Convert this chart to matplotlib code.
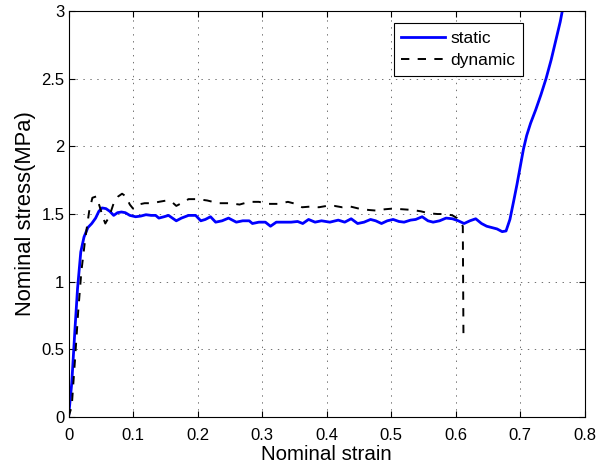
import numpy as np
import matplotlib
matplotlib.use("Agg")
import matplotlib.pyplot as plt

plt.rcParams['font.family'] = ['Liberation Sans', 'DejaVu Sans']
plt.rcParams['lines.scale_dashes'] = False

# static curve (nominal strain, nominal stress in MPa)
static_strain = [0, 0.005, 0.01, 0.014, 0.019, 0.024, 0.03, 0.036, 0.042, 0.047,
                 0.052, 0.058, 0.064, 0.07, 0.076, 0.082, 0.088, 0.095, 0.104, 0.112,
                 0.12, 0.128, 0.135, 0.14, 0.148, 0.155, 0.161, 0.167, 0.175, 0.186,
                 0.197, 0.205, 0.212, 0.22, 0.228, 0.238, 0.248, 0.26, 0.27, 0.28,
                 0.285, 0.295, 0.305, 0.313, 0.322, 0.335, 0.345, 0.355, 0.363, 0.372,
                 0.382, 0.392, 0.405, 0.418, 0.428, 0.438, 0.448, 0.458, 0.468, 0.476,
                 0.485, 0.494, 0.503, 0.512, 0.52, 0.53, 0.538, 0.548, 0.557, 0.565,
                 0.575, 0.585, 0.595, 0.604, 0.613, 0.622, 0.631, 0.64, 0.648, 0.656,
                 0.664, 0.672, 0.678, 0.684, 0.69, 0.695, 0.70, 0.705, 0.71, 0.716,
                 0.724, 0.732, 0.74, 0.748, 0.755, 0.762, 0.766]
static_stress = [0, 0.25, 0.65, 0.95, 1.22, 1.33, 1.40, 1.43, 1.47, 1.52,
                 1.545, 1.54, 1.52, 1.49, 1.51, 1.515, 1.51, 1.49, 1.48, 1.485,
                 1.495, 1.49, 1.49, 1.47, 1.48, 1.49, 1.47, 1.45, 1.47, 1.49,
                 1.49, 1.45, 1.46, 1.48, 1.44, 1.45, 1.47, 1.44, 1.45, 1.45,
                 1.43, 1.44, 1.44, 1.41, 1.44, 1.44, 1.44, 1.445, 1.43, 1.46,
                 1.44, 1.45, 1.44, 1.455, 1.44, 1.465, 1.43, 1.44, 1.46, 1.45,
                 1.43, 1.45, 1.46, 1.445, 1.44, 1.455, 1.46, 1.48, 1.45, 1.44,
                 1.45, 1.47, 1.465, 1.45, 1.43, 1.45, 1.465, 1.43, 1.41, 1.40,
                 1.39, 1.37, 1.375, 1.46, 1.60, 1.72, 1.85, 1.98, 2.08, 2.17,
                 2.27, 2.38, 2.50, 2.64, 2.78, 2.92, 3.02]

# dynamic curve
dynamic_strain = [0, 0.005, 0.01, 0.015, 0.02, 0.026, 0.032, 0.037, 0.043, 0.048,
                  0.053, 0.057, 0.063, 0.07, 0.077, 0.083, 0.089, 0.095, 0.1, 0.108,
                  0.118, 0.13, 0.14, 0.152, 0.16, 0.167, 0.175, 0.186, 0.2, 0.215,
                  0.232, 0.25, 0.265, 0.28, 0.295, 0.31, 0.325, 0.34, 0.352, 0.362,
                  0.375, 0.388, 0.4, 0.412, 0.424, 0.437, 0.45, 0.465, 0.478, 0.49,
                  0.502, 0.518, 0.533, 0.546, 0.559, 0.572, 0.585, 0.595, 0.602, 0.607,
                  0.611, 0.612]
dynamic_stress = [0, 0.08, 0.42, 0.78, 1.08, 1.32, 1.52, 1.62, 1.63, 1.56,
                  1.48, 1.43, 1.48, 1.58, 1.63, 1.65, 1.63, 1.57, 1.54, 1.57,
                  1.58, 1.58, 1.59, 1.60, 1.59, 1.56, 1.58, 1.61, 1.61, 1.60,
                  1.58, 1.58, 1.57, 1.59, 1.59, 1.575, 1.575, 1.59, 1.575, 1.55,
                  1.555, 1.55, 1.56, 1.56, 1.55, 1.555, 1.54, 1.53, 1.525, 1.535,
                  1.54, 1.535, 1.53, 1.52, 1.505, 1.50, 1.50, 1.49, 1.47, 1.44,
                  1.41, 0.60]

fig = plt.figure(figsize=(6.01, 4.73), dpi=100)
ax = fig.add_axes([0.114, 0.118, 0.859, 0.859])

ax.plot(static_strain, static_stress, color="blue", linewidth=2.0, label="static")
ax.plot(dynamic_strain, dynamic_stress, color="black", linewidth=1.4,
        linestyle=(0, (6, 6)), label="dynamic")

ax.set_xlim(0, 0.8)
ax.set_ylim(0, 3)
ax.set_xticks(np.arange(0, 0.81, 0.1))
ax.set_yticks(np.arange(0, 3.01, 0.5))
ax.set_xticklabels(["0", "0.1", "0.2", "0.3", "0.4", "0.5", "0.6", "0.7", "0.8"])
ax.set_yticklabels(["0", "0.5", "1", "1.5", "2", "2.5", "3"])
ax.tick_params(direction="in", top=True, right=True, labelsize=12, length=4)
ax.tick_params(axis="x", pad=8)
ax.tick_params(axis="y", pad=3)
ax.grid(True, linestyle=(0, (1, 4)), color="0.35", linewidth=0.6)
ax.set_xlabel("Nominal strain", fontsize=14.8, labelpad=1)
ax.set_ylabel("Nominal stress(MPa)", fontsize=15.8, labelpad=4)

leg = ax.legend(loc="upper right", bbox_to_anchor=(0.88, 0.9695), borderaxespad=0,
                fontsize=12.5, fancybox=False, framealpha=1, handlelength=2.5,
                handletextpad=0.3, borderpad=0.45, labelspacing=0.4,
                edgecolor="black")
leg.get_frame().set_linewidth(0.8)

fig.savefig("out.png", dpi=100)
